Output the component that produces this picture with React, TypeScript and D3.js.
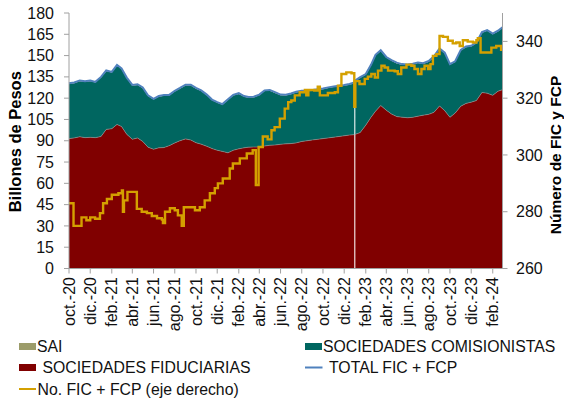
import React from 'react';
import * as d3 from 'd3';

// Fechas quincenales de las series apiladas (billones de pesos)
const fechas = [
  '2020-10-01', '2020-10-16', '2020-11-01', '2020-11-16', '2020-12-01', '2020-12-16',
  '2021-01-01', '2021-01-16', '2021-02-01', '2021-02-16', '2021-03-01', '2021-03-16',
  '2021-04-01', '2021-04-16', '2021-05-01', '2021-05-16', '2021-06-01', '2021-06-16',
  '2021-07-01', '2021-07-16', '2021-08-01', '2021-08-16', '2021-09-01', '2021-09-16',
  '2021-10-01', '2021-10-16', '2021-11-01', '2021-11-16', '2021-12-01', '2021-12-16',
  '2022-01-01', '2022-01-16', '2022-02-01', '2022-02-16', '2022-03-01', '2022-03-16',
  '2022-04-01', '2022-04-16', '2022-05-01', '2022-05-16', '2022-06-01', '2022-06-16',
  '2022-07-01', '2022-07-16', '2022-08-01', '2022-08-16', '2022-09-01', '2022-09-16',
  '2022-10-01', '2022-10-16', '2022-11-01', '2022-11-16', '2022-12-01', '2022-12-16',
  '2022-12-30', '2022-12-31', '2023-01-02', '2023-01-16',
  '2023-02-01', '2023-02-16', '2023-03-01', '2023-03-16',
  '2023-04-01', '2023-04-16', '2023-05-01', '2023-05-16', '2023-06-01', '2023-06-16',
  '2023-07-01', '2023-07-16', '2023-08-01', '2023-08-16', '2023-09-01', '2023-09-16',
  '2023-10-01', '2023-10-16', '2023-11-01', '2023-11-16', '2023-12-01', '2023-12-16',
  '2024-01-01', '2024-01-16', '2024-02-01', '2024-02-16', '2024-02-29',
];

const fiduciarias = [
  91.5, 92.0, 92.8, 92.2, 92.4, 92.2,
  93.0, 98.0, 98.5, 101.5, 100.0, 94.5,
  91.0, 92.0, 89.5, 85.5, 84.0, 85.0,
  85.2, 86.5, 88.5, 90.0, 91.3, 90.5,
  88.6, 87.6, 86.1, 84.5, 83.3, 82.5,
  81.5, 83.3, 84.3, 85.0, 85.5, 85.6,
  85.6, 86.3, 86.8, 87.0, 87.5, 87.8,
  88.0, 88.5, 89.5, 90.0, 90.6, 91.0,
  91.5, 92.0, 92.5, 93.0, 93.5, 94.0,
  94.3, null, 94.5, 95.8,
  101.0, 106.5, 110.8, 114.8,
  111.5, 108.8, 107.0, 106.6, 106.2, 106.5,
  107.3, 108.0, 108.6, 110.0, 114.5, 111.2,
  106.5, 109.5, 114.3, 116.3, 117.2, 118.3,
  124.0, 123.5, 122.0, 124.9, 126.0,
];

const comisionistas = [
  38.5, 38.5, 39.2, 39.3, 39.6, 38.8,
  41.5, 41.0, 39.5, 41.5, 40.5, 39.5,
  37.8, 37.3, 37.5, 36.0, 35.0, 36.0,
  36.5, 35.3, 36.2, 36.7, 37.7, 38.5,
  38.1, 37.4, 35.9, 34.0, 33.4, 32.8,
  37.2, 38.5, 38.7, 36.0, 34.8, 34.9,
  36.4, 38.7, 38.5, 36.7, 34.5, 34.1,
  34.8, 35.5, 35.3, 34.9, 34.7, 34.8,
  34.8, 35.1, 35.3, 35.3, 35.3, 35.5,
  36.2, null, 37.5, 38.5,
  35.5, 36.5, 39.2, 38.5,
  37.0, 37.5, 37.5, 36.9, 37.1, 37.3,
  37.4, 36.1, 37.1, 39.0, 40.0, 40.3,
  37.0, 36.0, 39.2, 39.6, 39.2, 40.4,
  42.0, 44.0, 43.0, 42.1, 43.5,
];

const sai = [
  0.5, 0.5, 0.5, 0.5, 0.5, 0.5,
  0.5, 0.5, 0.5, 0.5, 0.5, 0.5,
  0.5, 0.5, 0.5, 0.5, 0.5, 0.5,
  0.5, 0.5, 0.5, 0.5, 0.5, 0.5,
  0.5, 0.5, 0.5, 0.5, 0.5, 0.5,
  0.5, 0.5, 0.5, 0.5, 0.5, 0.5,
  0.5, 0.5, 0.5, 0.5, 0.5, 0.5,
  0.5, 0.5, 0.5, 0.5, 0.5, 0.5,
  0.5, 0.5, 0.5, 0.5, 0.5, 0.5,
  0.5, null, 0.5, 0.5,
  0.5, 0.5, 0.5, 0.5,
  0.5, 0.5, 0.5, 0.5, 0.5, 0.5,
  0.5, 0.5, 0.5, 0.5, 0.5, 0.5,
  0.5, 0.5, 0.5, 0.5, 0.5, 0.5,
  0.5, 0.5, 0.5, 0.5, 0.5,
];

// Número de FIC + FCP (eje derecho), cambios escalonados
const fechasFic = [
  '2020-10-01', '2020-10-14', '2020-11-06', '2020-11-20', '2020-12-01', '2020-12-15',
  '2020-12-29', '2021-01-07', '2021-01-18', '2021-02-01', '2021-02-20', '2021-03-02',
  '2021-03-05', '2021-03-08', '2021-03-18', '2021-04-14', '2021-04-28', '2021-05-13',
  '2021-05-27', '2021-06-11', '2021-06-25', '2021-06-28', '2021-07-04', '2021-07-18',
  '2021-08-01', '2021-08-10', '2021-08-21', '2021-08-27', '2021-09-28', '2021-10-12',
  '2021-10-26', '2021-11-10', '2021-11-24', '2021-12-03', '2021-12-17', '2022-01-06',
  '2022-01-15', '2022-02-04', '2022-02-24', '2022-03-13', '2022-03-22', '2022-03-30',
  '2022-04-11', '2022-04-25', '2022-05-06', '2022-05-15', '2022-05-30', '2022-06-13',
  '2022-06-23', '2022-07-02', '2022-07-12', '2022-07-26', '2022-08-10', '2022-08-14',
  '2022-08-20', '2022-09-06', '2022-09-16', '2022-09-22', '2022-10-15', '2022-11-04',
  '2022-11-13', '2022-11-23', '2022-12-07', '2022-12-22', '2022-12-30', '2023-01-02',
  '2023-01-14', '2023-01-29', '2023-02-07', '2023-02-17', '2023-02-27', '2023-03-08',
  '2023-03-18', '2023-03-27', '2023-04-06', '2023-04-25', '2023-05-04', '2023-05-14',
  '2023-05-29', '2023-06-12', '2023-06-21', '2023-07-01', '2023-07-11', '2023-07-20',
  '2023-07-30', '2023-08-06', '2023-08-13', '2023-08-23', '2023-09-01', '2023-09-11',
  '2023-09-25', '2023-10-09', '2023-10-19', '2023-10-29', '2023-11-07', '2023-11-21',
  '2023-12-06', '2023-12-16', '2023-12-20', '2023-12-28', '2024-01-28', '2024-02-11',
  '2024-02-25', '2024-02-29',
];

const numFic = [
  283, 275, 278, 277, 278, 277.5,
  279.5, 283, 284.5, 286, 286.5, 287.5,
  280, 284, 287, 281, 280, 279.5,
  278.5, 277.7, 277.2, 276, 280, 281.2,
  280.5, 278.7, 275, 281.6, 280.5, 281.6,
  284, 286.5, 288.3, 290, 291.7, 295.2,
  297, 298.8, 300.5, 301.7, 289.4, 302.8,
  306.5, 305.5, 308.7, 309.8, 312.8, 316.3,
  318.6, 319.2, 321, 322.1, 322.9, 321,
  322.9, 322.7, 324, 321, 321.8, 322.1,
  324.4, 328.5, 329.1, 328.8, 317, 326,
  325, 326.8, 327.6, 328.5, 327.3, 329.7,
  331.4, 330.8, 329.7, 329.5, 328.5, 330.8,
  331.8, 331.4, 330.3, 328.5, 330.3, 331.4,
  330.3, 332, 334.9, 335.5, 341.9, 341.6,
  340.2, 339.3, 339.6, 338.4, 340.4, 339.9,
  339.6, 340.4, 341.1, 336.1, 337.8, 338.4,
  337, 337,
];

const ticksIzq = [0, 15, 30, 45, 60, 75, 90, 105, 120, 135, 150, 165, 180];
const ticksDer = [260, 280, 300, 320, 340];
const etiquetasX = [
  'oct.-20', 'dic.-20', 'feb.-21', 'abr.-21', 'jun.-21', 'ago.-21', 'oct.-21',
  'dic.-21', 'feb.-22', 'abr.-22', 'jun.-22', 'ago.-22', 'oct.-22', 'dic.-22',
  'feb.-23', 'abr.-23', 'jun.-23', 'ago.-23', 'oct.-23', 'dic.-23', 'feb.-24',
];

const COLORS = {
  fid: '#800000',
  com: '#006660',
  sai: '#9c9c6a',
  total: '#4f81bd',
  fic: '#d4a000',
  axis: '#a0a0a0',
};

const FONT = '"Liberation Sans", Arial, sans-serif';

type Row = { fecha: Date; fid: number | null; com: number | null; sai: number | null };

export default function App() {
  const W = 564;
  const H = 400;
  const parse = d3.timeParse('%Y-%m-%d');

  const x = d3
    .scaleTime()
    .domain([parse('2020-10-01') as Date, parse('2024-02-29') as Date])
    .range([69, 502.5]);
  const yL = d3.scaleLinear().domain([0, 180]).range([268.5, 13]);
  const yR = d3.scaleLinear().domain([260, 350]).range([268.5, 13]);

  const tabla: Row[] = fechas.map((f, i) => ({
    fecha: parse(f) as Date,
    fid: fiduciarias[i],
    com: comisionistas[i],
    sai: sai[i],
  }));

  const series = d3
    .stack<Row>()
    .keys(['fid', 'com', 'sai'])
    .value((d, k) => (d[k as keyof Row] as number | null) ?? 0)(tabla);

  const area = d3
    .area<d3.SeriesPoint<Row>>()
    .defined((d) => d.data.fid != null)
    .x((d) => x(d.data.fecha))
    .y0((d) => yL(d[0]))
    .y1((d) => yL(d[1]));

  const fillFor = [COLORS.fid, COLORS.com, COLORS.sai];

  const topFid = d3
    .line<Row>()
    .defined((d) => d.fid != null)
    .x((d) => x(d.fecha))
    .y((d) => yL(d.fid as number));

  const total = d3
    .line<Row>()
    .defined((d) => d.fid != null)
    .x((d) => x(d.fecha))
    .y((d) => yL((d.fid as number) + (d.com as number) + (d.sai as number)));

  const ficData = fechasFic.map((f, i) => ({ fecha: parse(f) as Date, v: numFic[i] }));
  const ficLine = d3
    .line<{ fecha: Date; v: number }>()
    .curve(d3.curveStepAfter)
    .x((d) => x(d.fecha))
    .y((d) => yR(d.v));

  const tickFechas = d3.timeMonth.range(parse('2020-10-01') as Date, parse('2024-03-01') as Date, 2);

  const [x0, x1] = x.range();
  const yBase = yL(0);

  return (
    <svg
      width={W}
      height={H}
      style={{ position: 'absolute', left: 0, top: 0, background: '#fff' }}
      fontFamily={FONT}
    >
      {series.map((s, i) => (
        <path key={s.key} d={area(s) ?? ''} fill={fillFor[i]} />
      ))}
      <path d={topFid(tabla) ?? ''} fill="none" stroke="#9a8f8f" strokeWidth={0.6} />
      <path d={total(tabla) ?? ''} fill="none" stroke={COLORS.total} strokeWidth={2} />
      <path d={ficLine(ficData) ?? ''} fill="none" stroke={COLORS.fic} strokeWidth={2.4} />

      {/* eje izquierdo */}
      <line x1={x0} x2={x0} y1={yL(180)} y2={yBase} stroke={COLORS.axis} />
      {ticksIzq.map((t) => (
        <g key={t}>
          <line x1={x0 - 5} x2={x0} y1={yL(t)} y2={yL(t)} stroke={COLORS.axis} />
          <text x={54} y={yL(t)} dy="0.35em" textAnchor="end" fontSize={16} fill="#111">
            {t}
          </text>
        </g>
      ))}
      <text
        transform={`translate(15,${(yL(180) + yBase) / 2 + 1}) rotate(-90)`}
        textAnchor="middle"
        dy="0.35em"
        fontSize={16.5}
        fontWeight="bold"
        fill="#000"
      >
        Billones de Pesos
      </text>

      {/* eje derecho */}
      <line x1={x1} x2={x1} y1={yR(350)} y2={yBase} stroke={COLORS.axis} />
      {ticksDer.map((t) => (
        <g key={t}>
          <line x1={x1} x2={x1 + 5} y1={yR(t)} y2={yR(t)} stroke={COLORS.axis} />
          <text x={516} y={yR(t)} dy="0.35em" textAnchor="start" fontSize={16} fill="#111">
            {t}
          </text>
        </g>
      ))}
      <text
        transform={`translate(556,155) rotate(-90)`}
        textAnchor="middle"
        dy="0.35em"
        fontSize={15.5}
        fontWeight="bold"
        fill="#000"
      >
        Número de FIC y FCP
      </text>

      {/* eje x */}
      <line x1={x0} x2={x1} y1={yBase} y2={yBase} stroke={COLORS.axis} />
      {tickFechas.map((f, i) => (
        <g key={i}>
          <line x1={x(f)} x2={x(f)} y1={yBase} y2={yBase + 5} stroke={COLORS.axis} />
          <text
            transform={`translate(${x(f)},277) rotate(-90)`}
            textAnchor="end"
            dy="0.35em"
            fontSize={16}
            fill="#111"
          >
            {etiquetasX[i]}
          </text>
        </g>
      ))}

      {/* leyenda */}
      <g fontSize={15.8} fill="#111">
        <rect x={19} y={343} width={17} height={7} fill={COLORS.sai} />
        <text x={37} y={346.7} dy="0.35em">SAI</text>
        <rect x={305} y={343} width={17} height={7} fill={COLORS.com} />
        <text x={323} y={346.7} dy="0.35em">SOCIEDADES COMISIONISTAS</text>
        <rect x={19} y={364} width={17} height={7} fill={COLORS.fid} />
        <text x={42.5} y={367.5} dy="0.35em">SOCIEDADES FIDUCIARIAS</text>
        <line x1={305} x2={322.5} y1={367.5} y2={367.5} stroke={COLORS.total} strokeWidth={2} />
        <text x={329} y={367.5} dy="0.35em">TOTAL FIC + FCP</text>
        <line x1={19} x2={36} y1={389} y2={389} stroke={COLORS.fic} strokeWidth={2} />
        <text x={37.5} y={389} dy="0.35em">No. FIC + FCP (eje derecho)</text>
      </g>
    </svg>
  );
}
